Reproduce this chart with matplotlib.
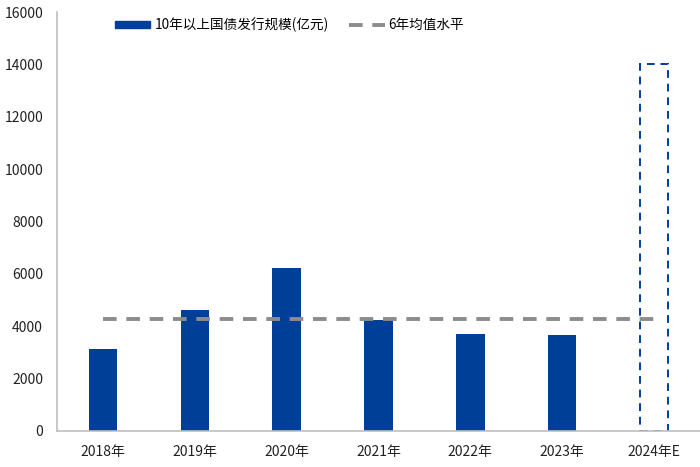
import matplotlib
matplotlib.use("Agg")
import matplotlib.pyplot as plt
from matplotlib.lines import Line2D
from matplotlib.patches import Patch

plt.rcParams['font.family'] = ['Noto Sans CJK SC', 'DejaVu Sans']

years = ["2018年", "2019年", "2020年", "2021年", "2022年", "2023年", "2024年E"]
issuance = [3130, 4620, 6220, 4240, 3700, 3665]
forecast_2024 = 14000
avg_level = 4270

bar_color = "#003f98"
grey = "#8c8c8c"

fig = plt.figure(figsize=(7, 4.67), dpi=100)
ax = fig.add_axes([57 / 700, 36 / 467, 643 / 700, 419 / 467])

x = list(range(len(years)))
ax.bar(x[:6], issuance, width=0.31, color=bar_color, zorder=2)
ax.bar(x[6], forecast_2024, width=0.31, facecolor="none", edgecolor=bar_color,
       linestyle=(0, (4, 3)), linewidth=1.4, zorder=2)
ax.plot([x[0], x[6]], [avg_level, avg_level], color=grey, linewidth=2.8,
        linestyle=(0, (3.5, 2.5)), zorder=3)

ax.set_xlim(-0.5, 6.5)
ax.set_ylim(0, 16000)
ax.set_yticks(range(0, 16001, 2000))
ax.set_xticks(x)
ax.set_xticklabels(years)
ax.tick_params(length=0, labelsize=10, colors="#222222")
ax.tick_params(axis="x", pad=10)
ax.tick_params(axis="y", pad=10)
for s in ["top", "right"]:
    ax.spines[s].set_visible(False)
for s in ["left", "bottom"]:
    ax.spines[s].set_color("#bfbfbf")
    ax.spines[s].set_linewidth(1.2)

handles = [Patch(color=bar_color),
           Line2D([0], [0], color=grey, linewidth=2.8, linestyle=(0, (3.5, 2.5)))]
labels = ["10年以上国债发行规模(亿元)", "6年均值水平"]
fig.legend(handles, labels, ncol=2, frameon=False, loc="center left",
           bbox_to_anchor=(115 / 700, 1 - 25 / 467), fontsize=9.8,
           borderpad=0, borderaxespad=0,
           handlelength=2.6, handleheight=0.4, handletextpad=0.3,
           columnspacing=1.5)

fig.savefig("out.png", dpi=100)
